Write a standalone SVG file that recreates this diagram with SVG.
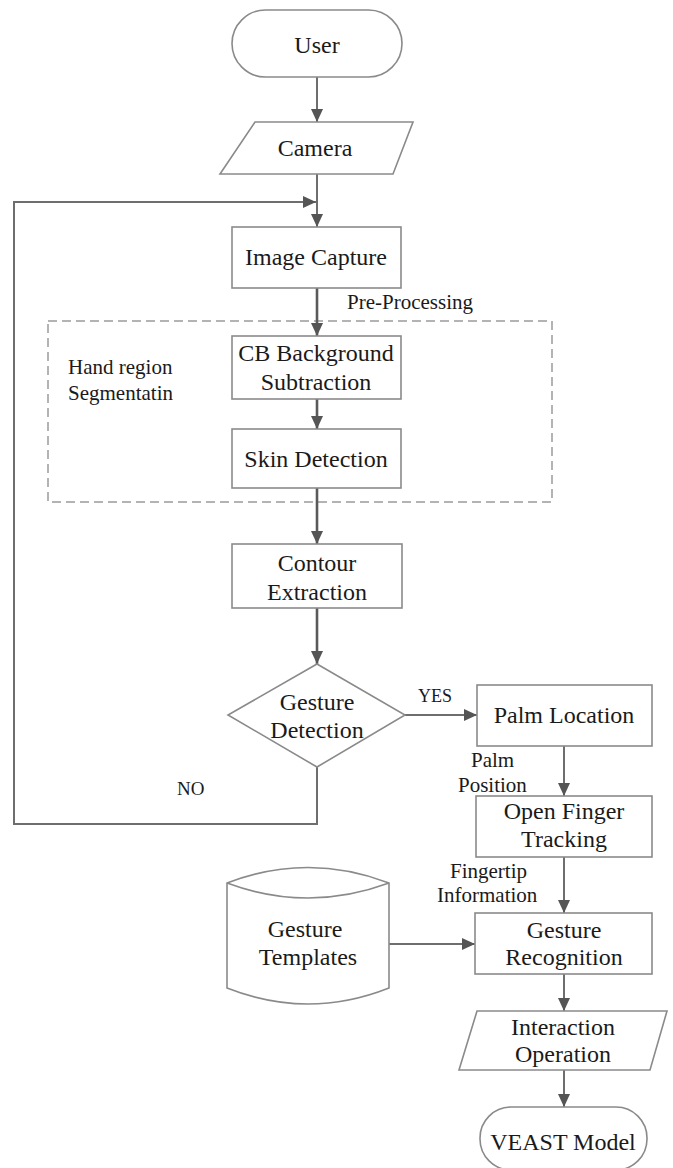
<svg xmlns="http://www.w3.org/2000/svg" width="673" height="1168" viewBox="0 0 673 1168">
<style>
.n{fill:#fff;stroke:#8a8a8a;stroke-width:1.6}
.t{font-family:"Liberation Serif","Times New Roman",serif;font-size:24px;fill:#1a1a1a;text-anchor:middle}
.s{font-family:"Liberation Serif","Times New Roman",serif;font-size:21px;fill:#1a1a1a}
.c{fill:none;stroke:#6e6e6e;stroke-width:2}
.c2{fill:none;stroke:#5a5a5a;stroke-width:2.6}
.d{fill:none;stroke:#9a9a9a;stroke-width:1.5;stroke-dasharray:9 5}
</style>
<defs>
<marker id="ah" markerWidth="14" markerHeight="12" refX="13" refY="6" orient="auto" markerUnits="userSpaceOnUse">
<path d="M0,0 L13,6 L0,12 Z" fill="#555"/>
</marker>
</defs>
<rect width="673" height="1168" fill="#fff"/>
<g id="group-preprocessing">
<rect class="d" x="48" y="321" width="504" height="181"/>
<text class="s" x="68" y="374">Hand region</text>
<text class="s" x="68" y="400">Segmentatin</text>
</g>
<g id="connectors">
<path class="c" d="M317,77 V122" marker-end="url(#ah)"/>
<path class="c" d="M317,174 V227" marker-end="url(#ah)"/>
<path class="c" d="M317,767 V824 H14 V202 H316" marker-end="url(#ah)"/>
<path class="c2" d="M317,288 V336" marker-end="url(#ah)"/>
<path class="c2" d="M317,399 V429" marker-end="url(#ah)"/>
<path class="c2" d="M317,488 V544" marker-end="url(#ah)"/>
<path class="c2" d="M317,608 V664" marker-end="url(#ah)"/>
<path class="c" d="M405,715 H477" marker-end="url(#ah)"/>
<path class="c" d="M564,746 V796" marker-end="url(#ah)"/>
<path class="c" d="M564,857 V913" marker-end="url(#ah)"/>
<path class="c" d="M389,944 H475" marker-end="url(#ah)"/>
<path class="c" d="M564,974 V1011" marker-end="url(#ah)"/>
<path class="c" d="M564,1070 V1107" marker-end="url(#ah)"/>
<text class="s" x="347" y="309">Pre-Processing</text>
<text class="s" x="418" y="702" style="font-size:18px">YES</text>
<text class="s" x="177" y="795" style="font-size:19px">NO</text>
<text class="s" x="471" y="767">Palm</text>
<text class="s" x="458" y="792">Position</text>
<text class="s" x="450" y="878">Fingertip</text>
<text class="s" x="437" y="902">Information</text>
</g>
<g id="user">
<rect class="n" x="232" y="10" width="170" height="67" rx="33.5"/>
<text class="t" x="317" y="53">User</text>
</g>
<g id="camera">
<path class="n" d="M255,122 L413,122 L393,174 L220,174 Z"/>
<text class="t" x="315" y="156">Camera</text>
</g>
<g id="image-capture">
<rect class="n" x="232" y="227" width="169" height="61"/>
<text class="t" x="316" y="265">Image Capture</text>
</g>
<g id="cb-background">
<rect class="n" x="232" y="336" width="169" height="63"/>
<text class="t" x="316" y="361">CB Background</text>
<text class="t" x="316" y="390">Subtraction</text>
</g>
<g id="skin-detection">
<rect class="n" x="232" y="429" width="169" height="59"/>
<text class="t" x="316" y="467">Skin Detection</text>
</g>
<g id="contour-extraction">
<rect class="n" x="232" y="544" width="170" height="64"/>
<text class="t" x="317" y="571">Contour</text>
<text class="t" x="317" y="600">Extraction</text>
</g>
<g id="gesture-detection">
<path class="n" d="M317,664 L405,715 L317,767 L228,715 Z"/>
<text class="t" x="317" y="710">Gesture</text>
<text class="t" x="317" y="738">Detection</text>
</g>
<g id="palm-location">
<rect class="n" x="477" y="685" width="175" height="61"/>
<text class="t" x="564" y="723">Palm Location</text>
</g>
<g id="open-finger-tracking">
<rect class="n" x="476" y="796" width="176" height="61"/>
<text class="t" x="564" y="819">Open Finger</text>
<text class="t" x="564" y="847">Tracking</text>
</g>
<g id="gesture-templates">
<path class="n" d="M227,883 Q308,852 389,883 V988 Q308,1020 227,988 Z"/>
<path class="n" d="M227,883 Q308,913 389,883" style="fill:none"/>
<text class="t" x="305" y="937">Gesture</text>
<text class="t" x="308" y="965">Templates</text>
</g>
<g id="gesture-recognition">
<rect class="n" x="475" y="913" width="177" height="61"/>
<text class="t" x="564" y="938">Gesture</text>
<text class="t" x="564" y="965">Recognition</text>
</g>
<g id="interaction-operation">
<path class="n" d="M477,1011 L667,1011 L650,1070 L459,1070 Z"/>
<text class="t" x="563" y="1035">Interaction</text>
<text class="t" x="563" y="1062">Operation</text>
</g>
<g id="veast-model">
<rect class="n" x="480" y="1107" width="167" height="63" rx="31"/>
<text class="t" x="563" y="1150">VEAST Model</text>
</g>
</svg>
